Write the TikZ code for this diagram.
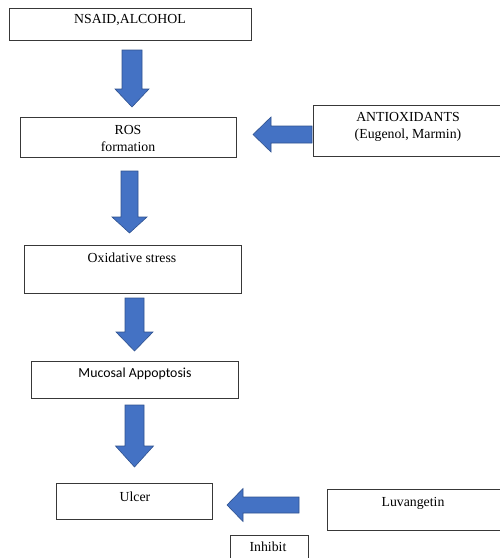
\documentclass[tikz,border=0pt]{standalone}
\usepackage{fontspec}
\setmainfont{Liberation Serif}
\newfontfamily\calibrifont{Carlito}
\definecolor{arrfill}{HTML}{4472C4}
\definecolor{arrline}{HTML}{2F528F}
\newcommand\blkdown[6]{\draw[blk] (#1-#2,#4) -- (#1+#2,#4) -- (#1+#2,#5) -- (#1+#3,#5) -- (#1,#6) -- (#1-#3,#5) -- (#1-#2,#5) -- cycle;}
\newcommand\blkleft[6]{\draw[blk] (#6,#1-#2) -- (#5,#1-#2) -- (#5,#1-#3) -- (#4,#1) -- (#5,#1+#3) -- (#5,#1+#2) -- (#6,#1+#2) -- cycle;}
\begin{document}
\begin{tikzpicture}[x=1pt,y=-1pt,
 box/.style={draw=black!78, line width=1pt, inner sep=0pt, rectangle},
 lbl/.style={font=\fontsize{13.8}{17}\selectfont, inner sep=0pt, align=center},
 blk/.style={fill=arrfill, draw=arrline, line width=0.6pt, line join=miter}]
\useasboundingbox (0,0) rectangle (500,558);
% boxes
\node[box, minimum width=242pt, minimum height=32pt] (nsaid) at (130,24) {};
\node[box, minimum width=216pt, minimum height=40pt] (ros) at (128,137) {};
\node[box, minimum width=189pt, minimum height=51pt] (antiox) at (407.5,130.5) {};
\node[box, minimum width=217pt, minimum height=48pt] (oxid) at (132.5,269) {};
\node[box, minimum width=207pt, minimum height=37pt] (muco) at (134.5,379.5) {};
\node[box, minimum width=156pt, minimum height=36pt] (ulcer) at (134,501) {};
\node[box, minimum width=175pt, minimum height=41pt] (luva) at (414.5,509.5) {};
\node[box, minimum width=78pt, minimum height=26pt] (inhib) at (269,548) {};
% texts
\node[lbl] (tnsaid) at (130,20) {NSAID,ALCOHOL};
\node[lbl] (tros) at (128,138) {ROS\\formation};
\node[lbl] (tanti) at (408,126.5) {ANTIOXIDANTS\\(Eugenol, Marmin)};
\node[lbl] (toxid) at (132,258) {Oxidative stress};
\node[lbl, font=\calibrifont\fontsize{13.8}{17}\selectfont] (tmuco) at (135,374) {Mucosal Appoptosis};
\node[lbl] (tulcer) at (135,497) {Ulcer};
\node[lbl] (tluva) at (413,503) {Luvangetin};
\node[lbl] (tinhib) at (268,547) {Inhibit};
% block arrows
\blkdown{132}{10}{17}{50}{89}{107}
\blkdown{129.5}{8.5}{17.5}{171}{217}{233}
\blkdown{134.5}{9.5}{18.5}{298}{332}{351}
\blkdown{134.5}{9.5}{19}{405}{446}{467}
\blkleft{134.5}{8.5}{17.5}{253}{271}{312}
\blkleft{505}{8}{16.5}{227}{243}{299}
\end{tikzpicture}
\end{document}
